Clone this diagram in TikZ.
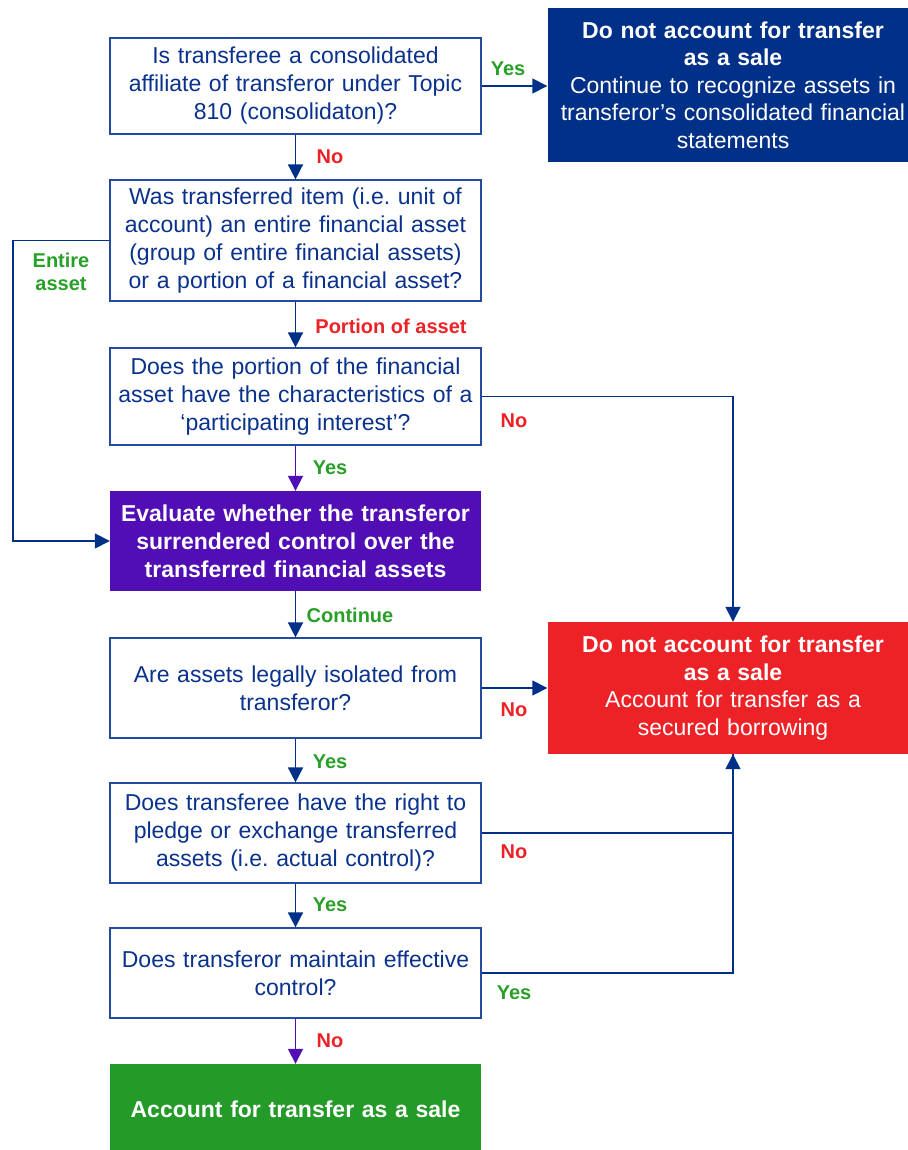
\documentclass[tikz,border=0pt]{standalone}
\usepackage{fontspec}
\setmainfont{Liberation Sans}
\usetikzlibrary{arrows.meta}
\frenchspacing
\definecolor{navy}{RGB}{0,48,135}
\definecolor{qblue}{RGB}{10,50,140}
\definecolor{qedge}{RGB}{35,75,160}
\definecolor{purp}{RGB}{80,14,180}
\definecolor{redbox}{RGB}{237,34,39}
\definecolor{greenbox}{RGB}{36,154,40}
\definecolor{lblgreen}{RGB}{40,160,40}
\definecolor{lblred}{RGB}{237,34,39}

\begin{document}
\begin{tikzpicture}[x=1pt, y=-1pt,
    qbox/.style={rectangle, draw=qedge, line width=1.2pt, fill=white, text=qblue,
                 text width=355pt, inner xsep=8pt, inner ysep=0pt, align=center,
                 font=\fontsize{23}{28}\selectfont},
    endbox/.style={rectangle, text=white, text width=355pt, inner xsep=8pt, inner ysep=0pt,
                 align=center, font=\fontsize{23}{27.5}\selectfont},
    arr/.style={-{Triangle[length=15pt,width=15pt]}, navy, line width=1.6pt},
    parr/.style={-{Triangle[length=15pt,width=15pt]}, purp, line width=1.6pt},
    yeslbl/.style={text=lblgreen, font=\bfseries\fontsize{20}{23}\selectfont, align=center},
    nolbl/.style={text=lblred, font=\bfseries\fontsize{20}{23}\selectfont, align=center}]
\useasboundingbox (0,0) rectangle (907,1150);
% questions down the left column
\node[qbox, minimum height=96pt] (affil) at (295.5,86) {Is transferee a consolidated\\affiliate of transferor under Topic\\810 (consolidaton)?};
\node[qbox, minimum height=121pt] (item) at (295.5,240.5) {Was transferred item (i.e. unit of\\account) an entire financial asset\\(group of entire financial assets)\\or a portion of a financial asset?};
\node[qbox, minimum height=97pt] (partint) at (295.5,396.5) {Does the portion of the financial\\asset have the characteristics of a\\‘participating interest’?};
\node[endbox, fill=purp, minimum height=100pt, font=\bfseries\fontsize{23}{28}\selectfont] (evalctl) at (295.5,541) {Evaluate whether the transferor\\surrendered control over the\\transferred financial assets};
\node[qbox, minimum height=100pt] (isolated) at (295.5,688) {Are assets legally isolated from\\transferor?};
\node[qbox, minimum height=100pt] (pledge) at (295.5,833) {Does transferee have the right to\\pledge or exchange transferred\\assets (i.e. actual control)?};
\node[qbox, minimum height=90pt] (effctl) at (295.5,973) {Does transferor maintain effective\\control?};
\node[endbox, fill=greenbox, minimum height=90pt, font=\bfseries\fontsize{23}{28}\selectfont] (sale) at (295.5,1109) {Account for transfer as a sale};
% outcomes on the right
\node[endbox, fill=navy, minimum height=154pt] (nosale1) at (733,85) {\textbf{Do not account for transfer}\\\textbf{as a sale}\\Continue to recognize assets in\\transferor’s consolidated financial\\statements};
\node[endbox, fill=redbox, minimum height=132pt] (nosale2) at (733,688) {\textbf{Do not account for transfer}\\\textbf{as a sale}\\Account for transfer as a\\secured borrowing};
% connectors
\draw[arr] (affil.east) -- (affil.east -| nosale1.west);
\draw[arr] (affil) -- (item);
\draw[arr] (item.west) -- (13,240.5) |- (evalctl.west);
\draw[arr] (item) -- (partint);
\draw[parr] (partint) -- (evalctl);
\draw[arr] (partint.east) -| (nosale2.north);
\draw[arr] (evalctl) -- (isolated);
\draw[arr] (isolated.east) -- (nosale2.west);
\draw[arr] (isolated) -- (pledge);
\draw[arr] (pledge.east) -| (nosale2.south);
\draw[navy, line width=1.6pt] (effctl.east) -| (nosale2.south);
\draw[arr] (pledge) -- (effctl);
\draw[parr] (effctl) -- (sale);
% labels
\node[yeslbl] (l1) at (508,69) {Yes};
\node[nolbl] (l2) at (330,157) {No};
\node[yeslbl] (l3) at (61,272) {Entire\\asset};
\node[nolbl] (l4) at (391,326) {Portion of asset};
\node[nolbl] (l5) at (514,421) {No};
\node[yeslbl] (l6) at (330,468) {Yes};
\node[yeslbl] (l7) at (350,615) {Continue};
\node[nolbl] (l8) at (514,710) {No};
\node[yeslbl] (l9) at (330,762) {Yes};
\node[nolbl] (l10) at (514,852) {No};
\node[yeslbl] (l11) at (330,905) {Yes};
\node[yeslbl] (l12) at (514,993) {Yes};
\node[nolbl] (l13) at (330,1041) {No};
\end{tikzpicture}
\end{document}
